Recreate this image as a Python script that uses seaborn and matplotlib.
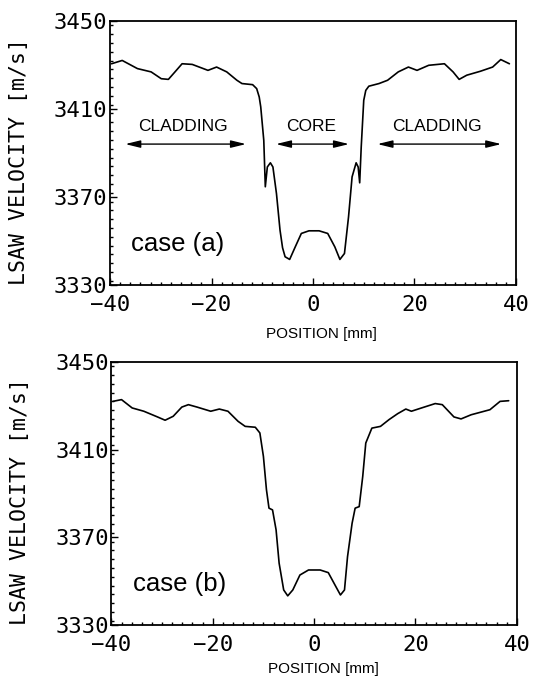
import numpy as np
import pandas as pd
import matplotlib
matplotlib.use("Agg")
import matplotlib.pyplot as plt
import seaborn as sns
from matplotlib.ticker import MultipleLocator

# ---------------- data ----------------
pos_a = [-39.7, -37.6, -34.6, -31.9, -29.9, -28.5, -27.2, -25.8, -23.8, -20.7,
         -19.0, -17.0, -15.0, -14.0, -11.9, -11.1, -10.6, -10.3, -9.7, -9.4, -9.0,
         -8.4, -7.9, -7.2, -6.5, -6.0, -5.5, -4.6, -3.5, -2.3, -0.8, 1.2,
         2.9, 4.3, 5.3, 6.2, 7.0, 7.7, 8.5, 8.9, 9.2, 9.5,
         10.0, 10.4, 11.0, 13.0, 14.7, 16.8, 18.8, 20.5, 22.8, 25.9, 27.6,
         28.8, 30.3, 33.0, 35.4, 37.0, 38.7]
vel_a = [3430.6, 3432.1, 3428.4, 3426.9, 3423.8, 3423.5, 3426.9, 3430.6, 3430.3, 3427.6,
         3429.1, 3426.9, 3423.1, 3421.6, 3421.1, 3419.3, 3415.5, 3411.0, 3395.8, 3374.7, 3383.7,
         3385.6, 3383.7, 3371.6, 3355.0, 3347.0, 3342.9, 3341.7, 3347.4, 3353.5, 3354.7, 3354.7,
         3353.5, 3347.4, 3341.7, 3344.4, 3361.0, 3379.2, 3385.6, 3383.7, 3376.5, 3392.7,
         3414.0, 3418.5, 3420.4, 3421.6, 3423.1, 3426.9, 3429.1, 3427.6, 3429.9, 3430.6, 3426.9,
         3423.5, 3425.4, 3427.2, 3429.1, 3432.5, 3430.6]

pos_b = [-39.7, -38.0, -35.9, -33.6, -30.9, -29.4, -27.8, -26.1, -24.8, -23.1,
         -20.4, -18.7, -17.0, -15.0, -13.6, -11.6, -10.7, -10.0, -9.4, -8.9,
         -8.2, -7.5, -6.9, -6.0, -5.2, -4.2, -2.8, -1.1, 1.2, 2.8,
         4.3, 5.2, 6.0, 6.6, 7.5, 8.1, 8.9, 9.6, 10.2, 11.4,
         13.1, 14.8, 16.5, 18.1, 19.2, 21.2, 23.9, 25.3, 27.6, 29.0,
         31.0, 34.7, 36.7, 38.4]
vel_b = [3432.0, 3432.8, 3429.0, 3427.5, 3424.9, 3423.4, 3425.2, 3429.4, 3430.5, 3429.4,
         3427.5, 3428.5, 3427.5, 3422.9, 3420.6, 3420.2, 3417.6, 3406.9, 3391.7, 3383.3,
         3382.5, 3373.4, 3358.2, 3346.0, 3343.3, 3346.0, 3352.8, 3355.1, 3355.1, 3353.9,
         3347.5, 3343.7, 3346.0, 3361.2, 3376.4, 3383.3, 3384.0, 3397.8, 3413.0, 3419.8,
         3420.6, 3423.7, 3426.4, 3428.5, 3427.5, 3429.0, 3431.0, 3430.5, 3424.9, 3424.0,
         3425.9, 3428.2, 3432.0, 3432.3]

region_labels = ["CLADDING", "CORE", "CLADDING"]
region_label_x = [-25.6, -0.3, 24.5]
region_arrow_start = [-37.0, -7.3, 12.7]
region_arrow_end = [-13.2, 7.1, 37.1]

case_labels = ["case (a)", "case (b)"]
x_ticks = [-40, -20, 0, 20, 40]
y_ticks = [3330, 3370, 3410, 3450]

# ---------------- style ----------------
sns.set_style("ticks")
plt.rcParams["font.family"] = ["DejaVu Sans Mono", "DejaVu Sans"]
plt.rcParams["text.color"] = "black"
plt.rcParams["axes.labelcolor"] = "black"
plt.rcParams["xtick.color"] = "black"
plt.rcParams["ytick.color"] = "black"
plt.rcParams["axes.edgecolor"] = "black"

fig = plt.figure(figsize=(5.42, 6.79), dpi=100)
ax_a = fig.add_axes([0.203, 0.580, 0.749, 0.389])
ax_b = fig.add_axes([0.2055, 0.0795, 0.748, 0.3875])

df_a = pd.DataFrame({"pos": pos_a, "vel": vel_a})
df_b = pd.DataFrame({"pos": pos_b, "vel": vel_b})

text_font = ["Liberation Sans", "DejaVu Sans"]

for ax, df, case in [(ax_a, df_a, case_labels[0]), (ax_b, df_b, case_labels[1])]:
    sns.lineplot(data=df, x="pos", y="vel", ax=ax, color="black", linewidth=1.2,
                 sort=False)
    ax.set_xlim(-40, 40)
    ax.set_ylim(3330, 3450)
    ax.set_xticks(x_ticks)
    ax.set_yticks(y_ticks)
    ax.xaxis.set_minor_locator(MultipleLocator(2))
    ax.yaxis.set_minor_locator(MultipleLocator(4))
    ax.tick_params(which="both", direction="in", top=False, right=False,
                   width=1.0, color="black", labelcolor="black")
    ax.tick_params(which="major", length=5)
    ax.tick_params(which="minor", length=2.5)
    ax.tick_params(axis="x", which="major", labelsize=16, pad=7)
    ax.tick_params(axis="y", which="major", labelsize=16, pad=2)
    for s in ax.spines.values():
        s.set_linewidth(1.3)
        s.set_color("black")
    ax.set_ylabel("LSAW VELOCITY [m/s]", fontsize=15.5, color="black",
                  family=["DejaVu Sans Mono", "DejaVu Sans"])
    ax.set_xlabel("POSITION [mm]", fontsize=11, family=text_font, color="black")
    ax.yaxis.set_label_coords(-0.2, 0.47)
    ax.text(-35.8, 3348.5, case, fontsize=18.5, family=text_font,
            ha="left", va="center", color="black")

ax_a.xaxis.set_label_coords(0.522, -0.159)
ax_b.xaxis.set_label_coords(0.522, -0.141)

# region annotations on case (a)
for lab, lx, x0, x1 in zip(region_labels, region_label_x,
                           region_arrow_start, region_arrow_end):
    ax_a.text(lx, 3402.3, lab, fontsize=12.5, family=text_font,
              ha="center", va="center", color="black")
    ax_a.annotate("", xy=(x1, 3394.1), xytext=(x0, 3394.1),
                  arrowprops=dict(arrowstyle="<|-|>,head_length=0.9,head_width=0.22",
                                  color="black", lw=1.0, shrinkA=0, shrinkB=0))

fig.savefig("out.png", dpi=100)
